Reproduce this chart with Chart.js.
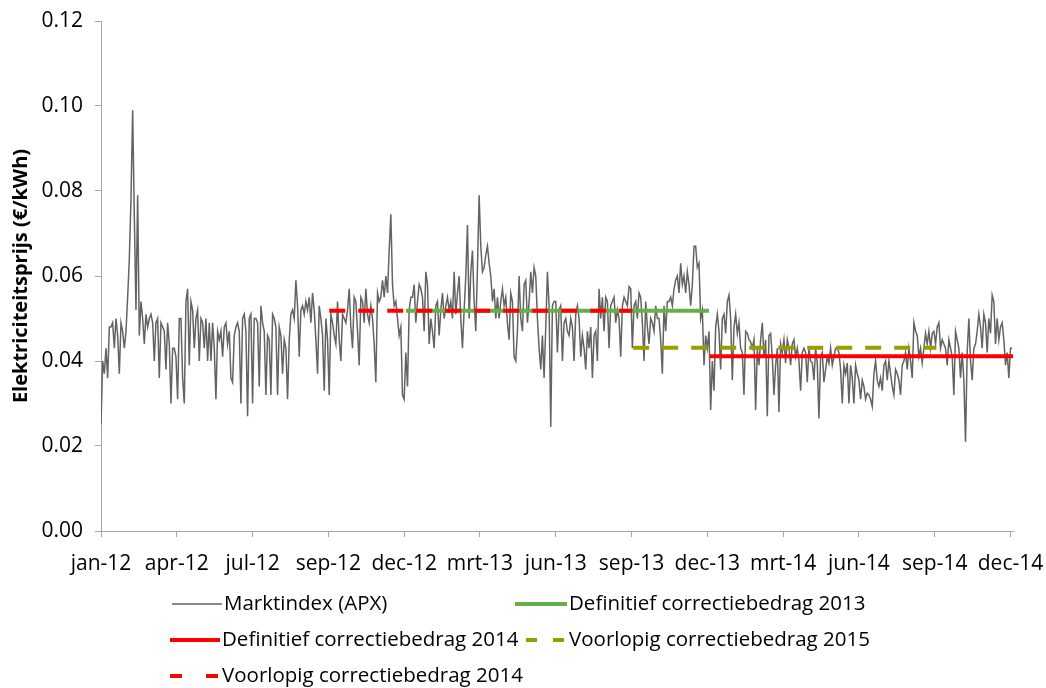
<!DOCTYPE html>
<html>
<head>
<meta charset="utf-8">
<script src="https://cdn.jsdelivr.net/npm/chart.js@4.4.1/dist/chart.umd.min.js"></script>
<style>
  html, body { margin: 0; padding: 0; background: #fff; }
</style>
</head>
<body>
<canvas id="grafiek" width="1046" height="688"></canvas>
<script>
// APX marktindex (€/kWh), één waarde per 2 dagen vanaf 1 jan 2012
const stapDagen = 2;
const marktindex = [
  0.025,0.040,0.037,0.043,0.036,0.048,0.048,0.049,0.043,0.050,
  0.046,0.037,0.049,0.047,0.043,0.047,0.055,0.064,0.078,0.099,
  0.074,0.052,0.079,0.046,0.054,0.050,0.044,0.051,0.048,0.050,
  0.051,0.049,0.040,0.049,0.050,0.036,0.049,0.048,0.047,0.038,
  0.049,0.044,0.030,0.043,0.043,0.041,0.031,0.050,0.050,0.036,
  0.030,0.054,0.057,0.039,0.054,0.052,0.043,0.050,0.052,0.040,
  0.050,0.049,0.043,0.050,0.040,0.049,0.040,0.049,0.043,0.031,
  0.047,0.045,0.047,0.041,0.048,0.049,0.044,0.047,0.036,0.035,
  0.046,0.048,0.049,0.047,0.030,0.050,0.051,0.047,0.027,0.050,
  0.051,
  // jul-12 .. dec-12
  0.030,0.050,0.050,0.049,0.034,0.053,0.049,0.047,0.032,0.046,
  0.045,0.032,0.051,0.050,0.048,0.032,0.048,0.046,0.037,0.045,
  0.043,0.031,0.045,0.051,0.052,0.050,0.059,0.053,0.041,0.052,
  0.053,0.051,0.054,0.052,0.055,0.049,0.056,0.052,0.045,0.037,
  0.053,0.050,0.046,0.033,0.050,0.045,0.032,0.051,0.049,0.046,
  0.044,0.054,0.045,0.040,0.051,0.050,0.049,0.052,0.057,0.048,
  0.043,0.055,0.054,0.047,0.039,0.055,0.054,0.049,0.057,0.051,
  0.049,0.053,0.050,0.044,0.035,0.056,0.054,0.055,0.059,0.055,
  0.060,0.056,0.066,0.0745,0.058,0.053,0.054,0.050,0.046,
  // dec-12 .. jun-13
  0.048,0.032,0.031,0.042,0.034,0.052,0.055,0.055,0.058,0.049,
  0.054,0.058,0.057,0.055,0.047,0.061,0.058,0.044,0.050,0.047,
  0.043,0.053,0.054,0.046,0.052,0.056,0.050,0.053,0.055,0.052,
  0.054,0.050,0.061,0.051,0.056,0.060,0.050,0.043,0.052,0.060,
  0.072,0.050,0.061,0.066,0.054,0.047,0.062,0.079,0.067,0.061,
  0.062,0.065,0.067,0.063,0.060,0.054,0.057,0.050,0.055,0.050,
  0.054,0.057,0.053,0.055,0.049,0.045,0.056,0.054,0.041,0.040,
  0.047,0.060,0.050,0.047,0.058,0.059,0.049,0.054,0.061,0.056,
  0.062,0.060,0.050,0.043,0.038,0.046,0.036,0.048,0.061,0.053,
  0.0245,0.053,0.054,0.054,0.042,0.052,
  // jun-13 .. dec-13
  0.053,0.040,0.049,0.050,0.047,0.046,0.050,0.048,0.040,0.051,
  0.053,0.050,0.041,0.046,0.043,0.038,0.047,0.043,0.048,0.036,
  0.046,0.047,0.040,0.057,0.050,0.055,0.047,0.055,0.054,0.043,
  0.053,0.054,0.055,0.049,0.052,0.050,0.041,0.053,0.055,0.054,
  0.053,0.0575,0.057,0.043,0.053,0.054,0.050,0.056,0.055,0.049,
  0.040,0.054,0.048,0.044,0.050,0.049,0.047,0.053,0.050,0.050,
  0.045,0.037,0.053,0.047,0.054,0.054,0.055,0.053,0.057,0.059,
  0.060,0.056,0.063,0.058,0.060,0.056,0.061,0.058,0.053,0.058,
  0.067,0.067,0.062,0.063,0.050,0.052,0.039,0.046,0.043,0.047,
  // jan-14 .. jun-14
  0.0285,0.040,0.033,0.048,0.051,0.047,0.038,0.050,0.051,0.0465,
  0.054,0.0555,0.050,0.0355,0.048,0.051,0.0465,0.049,0.043,0.042,
  0.032,0.047,0.0465,0.045,0.0445,0.043,0.045,0.0285,0.043,0.039,
  0.045,0.049,0.041,0.045,0.027,0.046,0.0465,0.041,0.032,0.039,
  0.043,0.028,0.044,0.042,0.045,0.0395,0.045,0.043,0.039,0.044,
  0.045,0.041,0.043,0.040,0.033,0.042,0.043,0.042,0.035,0.043,
  0.040,0.0395,0.0355,0.043,0.0395,0.0265,0.041,0.042,0.035,0.038,
  0.041,0.0395,0.043,0.039,0.041,0.043,0.043,0.042,0.038,0.030,
  0.039,0.037,0.0395,0.030,0.039,0.036,0.030,0.039,0.037,0.0355,
  // jul-14 .. dec-14
  0.031,0.0355,0.034,0.031,0.0324,0.032,0.031,0.0293,0.037,0.040,
  0.0355,0.034,0.036,0.033,0.039,0.040,0.0355,0.040,0.037,0.034,
  0.032,0.038,0.037,0.0355,0.032,0.039,0.040,0.042,0.038,0.043,
  0.040,0.036,0.049,0.047,0.046,0.041,0.043,0.0395,0.043,0.0465,
  0.044,0.047,0.043,0.0465,0.047,0.044,0.048,0.049,0.043,0.045,
  0.044,0.043,0.039,0.045,0.043,0.041,0.032,0.047,0.045,0.043,
  0.036,0.042,0.0355,0.021,0.042,0.050,0.040,0.0355,0.043,0.044,
  0.047,0.051,0.048,0.043,0.051,0.049,0.042,0.050,0.0465,0.0555,
  0.054,0.044,0.050,0.045,0.048,0.049,0.045,0.039,0.042,0.036,
  0.043,0.043
];

// aslabels: elke 91 dagen
const maandLabels = ['jan-12','apr-12','jul-12','sep-12','dec-12','mrt-13','jun-13',
  'sep-13','dec-13','mrt-14','jun-14','sep-14','dec-14'];
const labelInterval = 91;
const laatsteDag = 1095;

// correctiebedragen (dagnummer vanaf 1 jan 2012)
const refNamen = ['Definitief correctiebedrag 2013', 'Definitief correctiebedrag 2014',
  'Voorlopig correctiebedrag 2015', 'Voorlopig correctiebedrag 2014'];
const refWaarde = [0.0518, 0.0411, 0.0431, 0.0518];
const refStart = [366, 731, 639, 274];
const refEind = [730, 1095, 1003, 638];

const refKleur = ['#64b04a', '#ff0000', '#9c9c00', '#ff0000'];
const refStreep = [false, false, true, true];
const streep = [16, 13];
const lettertype = 'Open Sans';
const grijs = '#a6a6a6';

const datasets = [{
  label: 'Marktindex (APX)',
  data: marktindex.map((v, i) => ({ x: i * stapDagen, y: v })),
  borderColor: '#636363',
  borderWidth: 1.5,
  pointRadius: 0,
  tension: 0,
  order: 10
}];
refNamen.forEach((naam, k) => {
  datasets.push({
    label: naam,
    data: [{ x: refStart[k], y: refWaarde[k] }, { x: refEind[k], y: refWaarde[k] }],
    borderColor: refKleur[k],
    borderWidth: 4,
    borderDash: refStreep[k] ? streep : [],
    pointRadius: 0,
    order: 4 - k
  });
});

// legenda in twee kolommen onder de grafiek
const legendaPos = [
  { ds: 0, x: 172, w: 50, y: 604 },
  { ds: 1, x: 515, w: 52, y: 604 },
  { ds: 2, x: 170, w: 50, y: 640 },
  { ds: 3, x: 526, w: 41, y: 640, dash: [11, 16] },
  { ds: 4, x: 170, w: 50, y: 676, dash: [12, 24] }
];
const legendaPlugin = {
  id: 'legenda',
  afterDraw(chart) {
    const ctx = chart.ctx;
    ctx.save();
    ctx.font = '20.5px "' + lettertype + '"';
    ctx.textBaseline = 'middle';
    ctx.fillStyle = '#000';
    legendaPos.forEach(p => {
      const ds = chart.data.datasets[p.ds];
      ctx.beginPath();
      ctx.strokeStyle = ds.borderColor;
      ctx.lineWidth = ds.borderWidth;
      ctx.setLineDash(p.dash || []);
      ctx.moveTo(p.x, p.y);
      ctx.lineTo(p.x + p.w, p.y);
      ctx.stroke();
      ctx.fillText(ds.label, p.x + p.w + 2, p.y);
    });
    ctx.restore();
  }
};

new Chart(document.getElementById('grafiek'), {
  type: 'line',
  data: { datasets },
  options: {
    responsive: false,
    animation: false,
    layout: { padding: { top: 21, right: 33, bottom: 109, left: 0 } },
    plugins: { legend: { display: false }, tooltip: { enabled: false } },
    scales: {
      x: {
        type: 'linear',
        min: 0,
        max: laatsteDag,
        afterBuildTicks: s => { s.ticks = maandLabels.map((l, i) => ({ value: i * labelInterval })); },
        afterFit: s => { s.height = 48; s.paddingLeft = 0; s.paddingRight = 0; },
        grid: { display: true, drawOnChartArea: false, color: grijs, tickLength: 6 },
        border: { color: grijs, width: 1 },
        ticks: {
          autoSkip: false, maxRotation: 0, padding: 14, color: '#000',
          font: { family: lettertype, size: 21 },
          callback: (v, i) => maandLabels[i]
        }
      },
      y: {
        min: 0,
        max: 0.12,
        afterFit: s => { s.width = 101; s.paddingTop = 0; s.paddingBottom = 0; },
        grid: { display: true, drawOnChartArea: false, color: grijs, tickLength: 6 },
        border: { color: grijs, width: 1 },
        ticks: {
          stepSize: 0.02, padding: 12, color: '#000',
          font: { family: lettertype, size: 21 },
          callback: v => v.toFixed(2)
        },
        title: {
          display: true,
          text: 'Elektriciteitsprijs (€/kWh)',
          color: '#000',
          font: { family: lettertype, size: 20, weight: 'bold' },
          padding: { top: 9, bottom: 0 }
        }
      }
    }
  },
  plugins: [legendaPlugin]
});
</script>
</body>
</html>
